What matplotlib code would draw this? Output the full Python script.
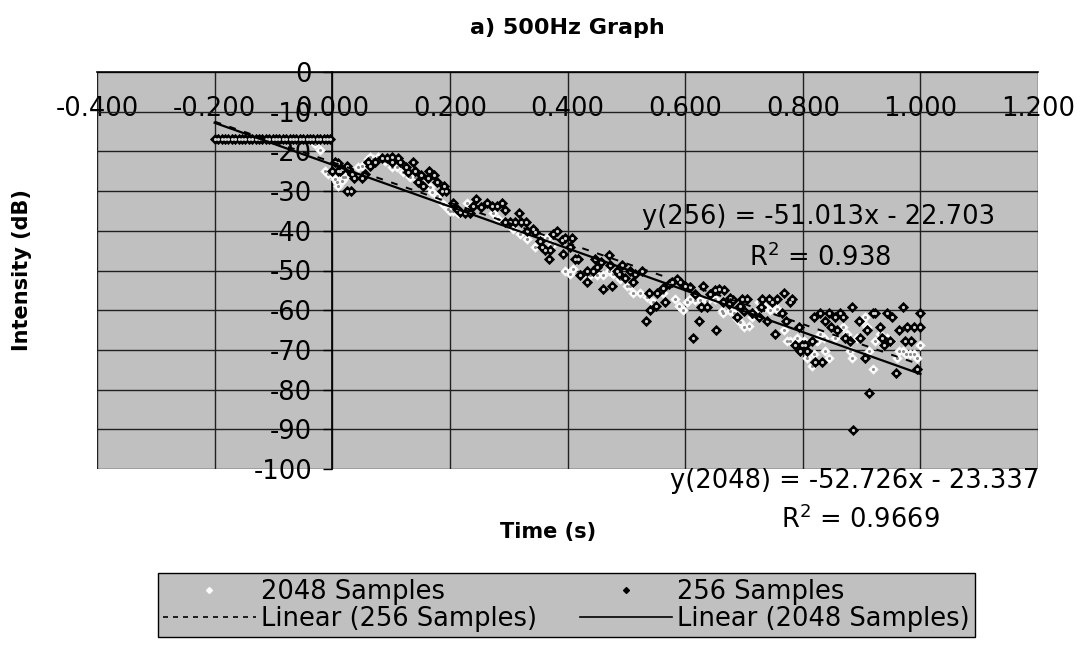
import numpy as np
import matplotlib
matplotlib.use("Agg")
import matplotlib.pyplot as plt
from matplotlib.lines import Line2D

plt.rcParams['font.family'] = ['DejaVu Sans']

# ---------------- data ----------------
title = "a) 500Hz Graph"
x_label = "Time (s)"
y_label = "Intensity (dB)"

x_ticks = [-0.4, -0.2, 0.0, 0.2, 0.4, 0.6, 0.8, 1.0, 1.2]
y_ticks = [-100, -90, -80, -70, -60, -50, -40, -30, -20, -10, 0]

# 256 Samples (black points)
x_256 = [-0.200, -0.194, -0.188, -0.183, -0.177, -0.171, -0.165, -0.159, -0.154, -0.148,
         -0.142, -0.136, -0.130, -0.125, -0.119, -0.113, -0.107, -0.101, -0.096, -0.090,
         -0.084, -0.078, -0.072, -0.067, -0.061, -0.055, -0.049, -0.043, -0.038, -0.032,
         -0.026, -0.020, -0.014, -0.009, -0.003,
         0.000, 0.005, 0.009, 0.010, 0.014, 0.017, 0.025, 0.026, 0.025, 0.032,
         0.034, 0.037, 0.051, 0.056, 0.060, 0.065, 0.073, 0.085, 0.093, 0.102,
         0.102, 0.112, 0.116, 0.126, 0.128, 0.137, 0.141, 0.146, 0.151, 0.155,
         0.162, 0.165, 0.173, 0.178, 0.187, 0.190, 0.194, 0.205, 0.212, 0.218,
         0.226, 0.235, 0.240, 0.245, 0.253, 0.263, 0.272, 0.280, 0.289, 0.293,
         0.294, 0.303, 0.311, 0.317, 0.321, 0.330, 0.331, 0.341, 0.345, 0.353,
         0.357, 0.361, 0.368, 0.371, 0.376, 0.382, 0.391, 0.393, 0.396, 0.405,
         0.408, 0.412, 0.418, 0.422, 0.433, 0.433, 0.444, 0.447, 0.450, 0.457,
         0.461, 0.470, 0.473, 0.476, 0.484, 0.487, 0.493, 0.498, 0.507, 0.512,
         0.515, 0.527, 0.533, 0.538, 0.541, 0.551, 0.552, 0.563, 0.566, 0.572,
         0.578, 0.586, 0.592, 0.600, 0.609, 0.613, 0.617, 0.624, 0.627, 0.631,
         0.638, 0.643, 0.651, 0.653, 0.657, 0.664, 0.666, 0.674, 0.676, 0.681,
         0.688, 0.693, 0.697, 0.700, 0.705, 0.714, 0.725, 0.729, 0.731, 0.739,
         0.742, 0.748, 0.753, 0.756, 0.765, 0.768, 0.772, 0.779, 0.782, 0.787,
         0.793, 0.796, 0.799, 0.804, 0.807, 0.816, 0.819, 0.821, 0.830, 0.833,
         0.837, 0.844, 0.848, 0.855, 0.858, 0.863, 0.869, 0.872, 0.880, 0.884,
         0.886, 0.895, 0.898, 0.905, 0.909, 0.912, 0.920, 0.923, 0.931, 0.934,
         0.938, 0.944, 0.948, 0.952, 0.959, 0.963, 0.971, 0.974, 0.977, 0.984,
         0.989, 0.995, 0.999, 1.000]
y_256 = [-17.0, -17.0, -17.0, -17.0, -17.0, -17.0, -17.0, -17.0, -17.0, -17.0,
         -17.0, -17.0, -17.0, -17.0, -17.0, -17.0, -17.0, -17.0, -17.0, -17.0,
         -17.0, -17.0, -17.0, -17.0, -17.0, -17.0, -17.0, -17.0, -17.0, -17.0,
         -17.0, -17.0, -17.0, -17.0, -17.0,
         -25.0, -22.7, -22.8, -24.9, -25.0, -24.5, -23.7, -24.5, -30.1, -30.1,
         -25.8, -26.8, -26.8, -25.8, -22.7, -23.8, -22.7, -21.6, -21.6, -21.5,
         -22.7, -21.6, -22.7, -24.0, -25.2, -22.7, -24.9, -27.8, -26.0, -28.7,
         -26.8, -24.9, -26.0, -27.8, -30.1, -28.7, -30.1, -32.9, -34.6, -35.3,
         -35.6, -35.6, -33.8, -31.9, -33.9, -32.9, -33.8, -33.8, -32.9, -34.8,
         -37.9, -37.9, -37.9, -35.6, -37.9, -37.9, -40.0, -39.6, -40.4, -42.6,
         -44.0, -44.9, -47.0, -44.9, -40.9, -40.0, -42.3, -45.9, -41.7, -44.2,
         -41.7, -47.0, -47.0, -51.2, -50.1, -53.0, -50.1, -47.0, -49.0, -47.8,
         -54.7, -46.2, -48.7, -53.9, -50.1, -50.9, -48.7, -52.0, -50.1, -53.0,
         -50.9, -50.1, -62.8, -55.7, -60.0, -58.9, -55.7, -54.3, -58.0, -53.4,
         -53.0, -52.2, -53.0, -53.9, -54.1, -66.9, -55.8, -62.7, -59.1, -53.9,
         -59.1, -55.8, -55.0, -65.0, -54.7, -58.0, -54.9, -58.5, -57.0, -57.4,
         -61.8, -58.9, -57.2, -60.2, -57.2, -60.8, -61.8, -59.2, -57.2, -62.8,
         -57.2, -58.0, -66.0, -57.2, -60.8, -55.7, -62.8, -58.0, -57.2, -68.8,
         -64.2, -70.2, -68.8, -68.8, -70.2, -67.8, -61.8, -73.0, -60.8, -73.0,
         -62.8, -60.8, -64.2, -61.8, -65.0, -60.8, -61.8, -67.0, -67.8, -59.1,
         -90.3, -62.8, -67.0, -72.1, -65.0, -80.9, -60.8, -60.8, -64.2, -67.0,
         -68.8, -60.8, -67.8, -61.8, -75.8, -65.0, -59.1, -67.8, -64.2, -67.8,
         -64.2, -74.8, -60.8, -64.2]

# 2048 Samples (white points)
x_2048 = [-0.200, -0.177, -0.154, -0.130, -0.107, -0.084, -0.061, -0.038,
          -0.029, -0.020,
          -0.012, -0.007, 0.000, 0.005, 0.008, 0.010, 0.017, 0.019, 0.022, 0.027,
          0.031, 0.044, 0.051, 0.061, 0.065, 0.070, 0.078, 0.090, 0.102, 0.110,
          0.121, 0.129, 0.133, 0.141, 0.144, 0.153, 0.167, 0.170, 0.178, 0.189,
          0.197, 0.201, 0.206, 0.214, 0.229, 0.240, 0.274, 0.282, 0.291, 0.308,
          0.320, 0.331, 0.345, 0.357, 0.365, 0.374, 0.396, 0.405, 0.410, 0.427,
          0.439, 0.450, 0.461, 0.470, 0.478, 0.490, 0.501, 0.507, 0.512, 0.524,
          0.535, 0.546, 0.563, 0.583, 0.589, 0.597, 0.603, 0.609, 0.617, 0.626,
          0.637, 0.651, 0.663, 0.665, 0.677, 0.683, 0.688, 0.694, 0.700, 0.708,
          0.714, 0.719, 0.725, 0.736, 0.745, 0.751, 0.756, 0.768, 0.773, 0.779,
          0.790, 0.802, 0.807, 0.816, 0.819, 0.824, 0.830, 0.836, 0.837, 0.844,
          0.855, 0.869, 0.875, 0.881, 0.884, 0.892, 0.901, 0.906, 0.909, 0.912,
          0.920, 0.923, 0.931, 0.937, 0.944, 0.950, 0.960, 0.963, 0.971, 0.976,
          0.983, 0.989, 0.995, 1.000]
y_2048 = [-17.0, -17.0, -17.0, -17.0, -17.0, -17.0, -17.0, -17.0,
          -18.2, -19.7,
          -25.0, -25.8, -25.8, -27.0, -27.8, -28.7, -27.5, -26.5, -26.5, -25.8,
          -25.8, -24.0, -23.7, -22.0, -21.5, -21.8, -21.5, -22.5, -24.0, -24.0,
          -25.3, -25.3, -26.5, -26.5, -26.8, -27.0, -29.0, -30.3, -31.2, -33.3,
          -34.6, -35.0, -35.0, -35.6, -32.9, -33.3, -35.4, -37.1, -37.9, -39.6,
          -40.9, -42.1, -44.0, -41.7, -41.7, -43.6, -50.1, -50.9, -49.7, -50.9,
          -51.2, -51.2, -51.2, -50.1, -50.9, -52.2, -53.9, -53.9, -55.7, -55.7,
          -56.8, -58.0, -55.7, -57.2, -58.9, -60.0, -58.0, -57.2, -57.4, -57.4,
          -57.6, -57.2, -60.2, -60.8, -60.2, -60.8, -62.2, -62.9, -64.3, -63.9,
          -61.8, -60.8, -58.0, -59.3, -60.0, -58.5, -59.7, -65.0, -67.7, -67.7,
          -66.9, -67.7, -72.1, -74.0, -71.1, -67.8, -66.0, -67.0, -70.2, -72.1,
          -67.0, -64.2, -66.0, -70.2, -72.1, -67.0, -62.8, -61.8, -64.2, -70.2,
          -74.8, -67.8, -66.0, -68.8, -67.0, -67.8, -72.1, -70.2, -70.2, -71.1,
          -71.1, -71.1, -72.1, -68.8]

# trendline coefficients (from the chart's equations)
slope_256, intercept_256, r2_256 = -51.013, -22.703, 0.938
slope_2048, intercept_2048, r2_2048 = -52.726, -23.337, 0.9669

series_labels = ["2048 Samples", "256 Samples", "Linear (256 Samples)", "Linear (2048 Samples)"]

# ---------------- figure ----------------
W, H = 1082, 649
fig = plt.figure(figsize=(W / 100, H / 100), dpi=100)
fig.patch.set_facecolor('white')

def fx(px):
    return px / W

def fy(py):
    return 1 - py / H

L, R, T, B = 97, 1038, 72, 469
ax = fig.add_axes([fx(L), fy(B), (R - L) / W, (B - T) / H])
ax.set_facecolor('#C0C0C0')

TICK_FS = 18.5

# spines first (set_position resets ticks)
for s in ['top', 'right']:
    ax.spines[s].set_visible(False)
ax.spines['left'].set_position(('data', 0))
ax.spines['bottom'].set_position(('data', 0))
for s in ['left', 'bottom']:
    ax.spines[s].set_color('black')
    ax.spines[s].set_linewidth(1.2)
    ax.spines[s].set_zorder(3)

ax.set_xlim(-0.4, 1.2)
ax.set_ylim(-100, 0)
ax.set_xticks(x_ticks)
ax.set_xticklabels(["%.3f" % v for v in x_ticks])
ax.set_yticks(y_ticks)
ax.set_yticklabels(["%d" % v for v in y_ticks])

ax.grid(True, color='#202020', linewidth=1.0)
ax.set_axisbelow(True)

ax.tick_params(axis='x', direction='in', length=0, pad=17, colors='black', labelsize=TICK_FS)
ax.tick_params(axis='y', direction='out', length=6.5, width=1, pad=8, colors='black',
               labelsize=TICK_FS)
for lab in ax.get_xticklabels() + ax.get_yticklabels():
    lab.set_zorder(10)

# scatter points
ax.scatter(x_2048, y_2048, marker='D', s=24, facecolors='white', edgecolors='#f0f0f0',
           linewidths=0.5, zorder=4)
ax.scatter(x_2048, y_2048, marker='o', s=1.5, color='#8c8c8c', zorder=4.1)
ax.scatter(x_256, y_256, marker='D', s=26, facecolors='black', edgecolors='black',
           linewidths=0.6, zorder=5)
ax.scatter(x_256, y_256, marker='o', s=1.6, color='#d0d0d0', zorder=5.1)

# trendlines
xr256 = np.array([min(x_256), max(x_256)])
xr2048 = np.array([min(x_2048), max(x_2048)])
ax.plot(xr256, slope_256 * xr256 + intercept_256, color='black', lw=1.4,
        linestyle=(0, (3.5, 4.5)), zorder=6)
ax.plot(xr2048, slope_2048 * xr2048 + intercept_2048, color='black', lw=1.6, zorder=6)

# titles
fig.text(fx(567), fy(28), title, ha='center', va='center', fontsize=16, fontweight='bold')
fig.text(fx(548), fy(532), x_label, ha='center', va='center', fontsize=15, fontweight='bold')
fig.text(fx(22), fy(270), y_label, ha='center', va='center', fontsize=15, fontweight='bold',
         rotation=90)

# equations
fig.text(fx(819), fy(217), "y(256) = %.3fx - %.3f" % (slope_256, -intercept_256),
         ha='center', va='center', fontsize=TICK_FS)
fig.text(fx(820), fy(258), "R$^2$ = %s" % r2_256, ha='center', va='center', fontsize=TICK_FS)
fig.text(fx(855), fy(481), "y(2048) = %.3fx - %.3f" % (slope_2048, -intercept_2048),
         ha='center', va='center', fontsize=TICK_FS)
fig.text(fx(860), fy(520), "R$^2$ = %s" % r2_2048, ha='center', va='center', fontsize=TICK_FS)

# legend
h_2048 = Line2D([], [], marker='D', markersize=3, markerfacecolor='white',
                markeredgecolor='white', linestyle='none')
h_256 = Line2D([], [], marker='D', markersize=3, markerfacecolor='black',
               markeredgecolor='black', linestyle='none')
h_l256 = Line2D([], [], color='black', lw=1.2, linestyle=(0, (3, 3)))
h_l2048 = Line2D([], [], color='black', lw=1.2)
handles = [h_2048, h_l256, h_256, h_l2048]
labels = [series_labels[0], series_labels[2], series_labels[1], series_labels[3]]
leg = fig.legend(handles, labels, ncol=2, loc='lower left',
                 bbox_to_anchor=(fx(158), fy(637), (975 - 158) / W, (637 - 566) / H),
                 mode='expand', borderaxespad=0, frameon=True, fancybox=False,
                 facecolor='#C0C0C0', edgecolor='black', framealpha=1,
                 fontsize=TICK_FS, handlelength=3.6, handletextpad=0.2,
                 columnspacing=0.4, labelspacing=0.05, borderpad=0.2)
leg.get_frame().set_linewidth(1.0)

fig.savefig("out.png", dpi=100, facecolor='white')
